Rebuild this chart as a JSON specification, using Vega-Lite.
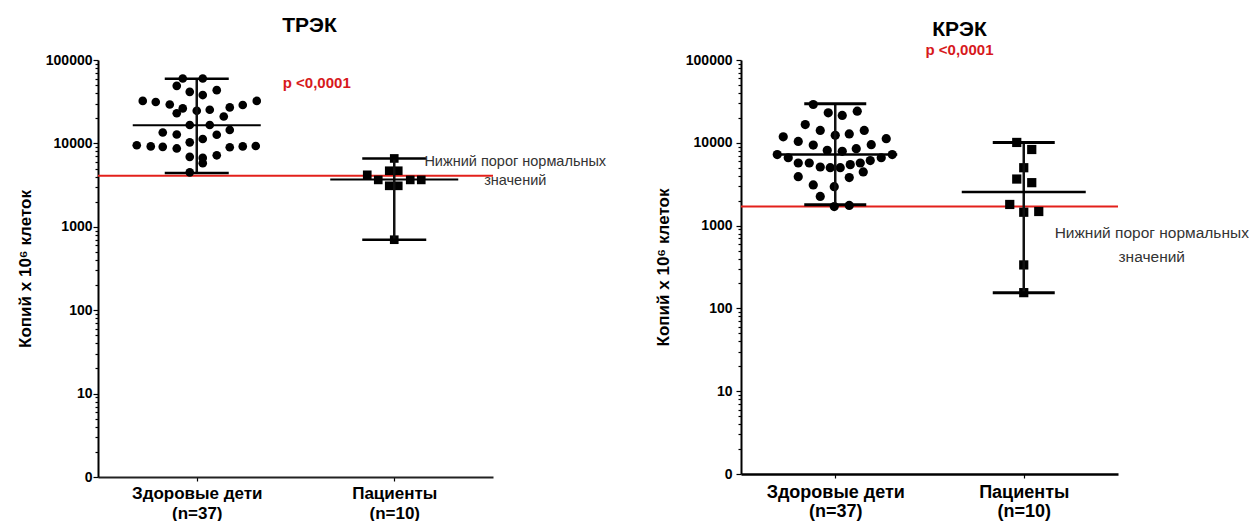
{
  "$schema": "https://vega.github.io/schema/vega-lite/v6.json",
  "padding": {"left": 16, "top": 15, "right": 5, "bottom": 0},
  "background": "white",
  "bounds": "flush",
  "spacing": 248,
  "config": {"view": {"stroke": null}, "font": "Liberation Sans"},
  "datasets": {
    "pts": [
      {"panel": "ТРЭК", "group": "Здоровые дети", "value": 60000, "jitter": -1.4},
      {"panel": "ТРЭК", "group": "Здоровые дети", "value": 60000, "jitter": 0.6},
      {"panel": "ТРЭК", "group": "Здоровые дети", "value": 49000, "jitter": -2.0},
      {"panel": "ТРЭК", "group": "Здоровые дети", "value": 41500, "jitter": -0.7},
      {"panel": "ТРЭК", "group": "Здоровые дети", "value": 38000, "jitter": 0.6},
      {"panel": "ТРЭК", "group": "Здоровые дети", "value": 43500, "jitter": 2.0},
      {"panel": "ТРЭК", "group": "Здоровые дети", "value": 32300, "jitter": -5.4},
      {"panel": "ТРЭК", "group": "Здоровые дети", "value": 31400, "jitter": -4.1},
      {"panel": "ТРЭК", "group": "Здоровые дети", "value": 29300, "jitter": -2.7},
      {"panel": "ТРЭК", "group": "Здоровые дети", "value": 26300, "jitter": -1.4},
      {"panel": "ТРЭК", "group": "Здоровые дети", "value": 23000, "jitter": -2.0},
      {"panel": "ТРЭК", "group": "Здоровые дети", "value": 24600, "jitter": 0},
      {"panel": "ТРЭК", "group": "Здоровые дети", "value": 25300, "jitter": 1.3},
      {"panel": "ТРЭК", "group": "Здоровые дети", "value": 27000, "jitter": 3.3},
      {"panel": "ТРЭК", "group": "Здоровые дети", "value": 28900, "jitter": 4.6},
      {"panel": "ТРЭК", "group": "Здоровые дети", "value": 32300, "jitter": 6.0},
      {"panel": "ТРЭК", "group": "Здоровые дети", "value": 21000, "jitter": 2.7},
      {"panel": "ТРЭК", "group": "Здоровые дети", "value": 16600, "jitter": -0.7},
      {"panel": "ТРЭК", "group": "Здоровые дети", "value": 16600, "jitter": 1.3},
      {"panel": "ТРЭК", "group": "Здоровые дети", "value": 13500, "jitter": -3.4},
      {"panel": "ТРЭК", "group": "Здоровые дети", "value": 12800, "jitter": -2.0},
      {"panel": "ТРЭК", "group": "Здоровые дети", "value": 12700, "jitter": 2.0},
      {"panel": "ТРЭК", "group": "Здоровые дети", "value": 14500, "jitter": 3.3},
      {"panel": "ТРЭК", "group": "Здоровые дети", "value": 11300, "jitter": 0.6},
      {"panel": "ТРЭК", "group": "Здоровые дети", "value": 10300, "jitter": -0.7},
      {"panel": "ТРЭК", "group": "Здоровые дети", "value": 9500, "jitter": -6.0},
      {"panel": "ТРЭК", "group": "Здоровые дети", "value": 9200, "jitter": -4.6},
      {"panel": "ТРЭК", "group": "Здоровые дети", "value": 9100, "jitter": -3.4},
      {"panel": "ТРЭК", "group": "Здоровые дети", "value": 8700, "jitter": -2.0},
      {"panel": "ТРЭК", "group": "Здоровые дети", "value": 9000, "jitter": 3.3},
      {"panel": "ТРЭК", "group": "Здоровые дети", "value": 9200, "jitter": 4.6},
      {"panel": "ТРЭК", "group": "Здоровые дети", "value": 9300, "jitter": 5.9},
      {"panel": "ТРЭК", "group": "Здоровые дети", "value": 6900, "jitter": -0.7},
      {"panel": "ТРЭК", "group": "Здоровые дети", "value": 6700, "jitter": 0.6},
      {"panel": "ТРЭК", "group": "Здоровые дети", "value": 5800, "jitter": 0.6},
      {"panel": "ТРЭК", "group": "Здоровые дети", "value": 7200, "jitter": 2.0},
      {"panel": "ТРЭК", "group": "Здоровые дети", "value": 4500, "jitter": -0.7},
      {"panel": "ТРЭК", "group": "Пациенты", "value": 6600, "jitter": 0},
      {"panel": "ТРЭК", "group": "Пациенты", "value": 4700, "jitter": -0.5},
      {"panel": "ТРЭК", "group": "Пациенты", "value": 4700, "jitter": 0.4},
      {"panel": "ТРЭК", "group": "Пациенты", "value": 4200, "jitter": -2.7},
      {"panel": "ТРЭК", "group": "Пациенты", "value": 3650, "jitter": -1.6},
      {"panel": "ТРЭК", "group": "Пациенты", "value": 3650, "jitter": 1.6},
      {"panel": "ТРЭК", "group": "Пациенты", "value": 3650, "jitter": 2.7},
      {"panel": "ТРЭК", "group": "Пациенты", "value": 3100, "jitter": -0.5},
      {"panel": "ТРЭК", "group": "Пациенты", "value": 3100, "jitter": 0.4},
      {"panel": "ТРЭК", "group": "Пациенты", "value": 700, "jitter": 0},
      {"panel": "КРЭК", "group": "Здоровые дети", "value": 29000, "jitter": -2.2},
      {"panel": "КРЭК", "group": "Здоровые дети", "value": 23000, "jitter": -0.7},
      {"panel": "КРЭК", "group": "Здоровые дети", "value": 21400, "jitter": 0.7},
      {"panel": "КРЭК", "group": "Здоровые дети", "value": 24100, "jitter": 2.2},
      {"panel": "КРЭК", "group": "Здоровые дети", "value": 16600, "jitter": -3.0},
      {"panel": "КРЭК", "group": "Здоровые дети", "value": 11800, "jitter": -5.2},
      {"panel": "КРЭК", "group": "Здоровые дети", "value": 10400, "jitter": -3.7},
      {"panel": "КРЭК", "group": "Здоровые дети", "value": 14100, "jitter": -1.5},
      {"panel": "КРЭК", "group": "Здоровые дети", "value": 12300, "jitter": 0},
      {"panel": "КРЭК", "group": "Здоровые дети", "value": 12800, "jitter": 1.4},
      {"panel": "КРЭК", "group": "Здоровые дети", "value": 14100, "jitter": 2.9},
      {"panel": "КРЭК", "group": "Здоровые дети", "value": 9400, "jitter": -2.2},
      {"panel": "КРЭК", "group": "Здоровые дети", "value": 9500, "jitter": 3.6},
      {"panel": "КРЭК", "group": "Здоровые дети", "value": 11200, "jitter": 5.1},
      {"panel": "КРЭК", "group": "Здоровые дети", "value": 8100, "jitter": -0.8},
      {"panel": "КРЭК", "group": "Здоровые дети", "value": 7900, "jitter": 0.7},
      {"panel": "КРЭК", "group": "Здоровые дети", "value": 8500, "jitter": 2.1},
      {"panel": "КРЭК", "group": "Здоровые дети", "value": 7200, "jitter": -5.8},
      {"panel": "КРЭК", "group": "Здоровые дети", "value": 6600, "jitter": -4.7},
      {"panel": "КРЭК", "group": "Здоровые дети", "value": 7200, "jitter": 5.7},
      {"panel": "КРЭК", "group": "Здоровые дети", "value": 6600, "jitter": 4.6},
      {"panel": "КРЭК", "group": "Здоровые дети", "value": 5700, "jitter": -3.7},
      {"panel": "КРЭК", "group": "Здоровые дети", "value": 5700, "jitter": -2.6},
      {"panel": "КРЭК", "group": "Здоровые дети", "value": 5100, "jitter": -1.5},
      {"panel": "КРЭК", "group": "Здоровые дети", "value": 5000, "jitter": -0.5},
      {"panel": "КРЭК", "group": "Здоровые дети", "value": 5000, "jitter": 0.5},
      {"panel": "КРЭК", "group": "Здоровые дети", "value": 5450, "jitter": 1.5},
      {"panel": "КРЭК", "group": "Здоровые дети", "value": 5700, "jitter": 2.5},
      {"panel": "КРЭК", "group": "Здоровые дети", "value": 6100, "jitter": 3.5},
      {"panel": "КРЭК", "group": "Здоровые дети", "value": 3900, "jitter": -3.7},
      {"panel": "КРЭК", "group": "Здоровые дети", "value": 3800, "jitter": 1.4},
      {"panel": "КРЭК", "group": "Здоровые дети", "value": 4450, "jitter": 2.8},
      {"panel": "КРЭК", "group": "Здоровые дети", "value": 3100, "jitter": -2.2},
      {"panel": "КРЭК", "group": "Здоровые дети", "value": 2950, "jitter": -0.1},
      {"panel": "КРЭК", "group": "Здоровые дети", "value": 2250, "jitter": -1.5},
      {"panel": "КРЭК", "group": "Здоровые дети", "value": 1700, "jitter": -0.1},
      {"panel": "КРЭК", "group": "Здоровые дети", "value": 1750, "jitter": 1.4},
      {"panel": "КРЭК", "group": "Пациенты", "value": 10100, "jitter": -0.7},
      {"panel": "КРЭК", "group": "Пациенты", "value": 8300, "jitter": 0.8},
      {"panel": "КРЭК", "group": "Пациенты", "value": 5000, "jitter": 0},
      {"panel": "КРЭК", "group": "Пациенты", "value": 3650, "jitter": -0.7},
      {"panel": "КРЭК", "group": "Пациенты", "value": 3300, "jitter": 0.8},
      {"panel": "КРЭК", "group": "Пациенты", "value": 1800, "jitter": -1.4},
      {"panel": "КРЭК", "group": "Пациенты", "value": 1450, "jitter": 0},
      {"panel": "КРЭК", "group": "Пациенты", "value": 1480, "jitter": 1.5},
      {"panel": "КРЭК", "group": "Пациенты", "value": 335, "jitter": 0},
      {"panel": "КРЭК", "group": "Пациенты", "value": 155, "jitter": 0}
    ],
    "summary": [
      {"panel": "ТРЭК", "group": "Здоровые дети", "low": 4430, "mid": 16500, "high": 59500},
      {"panel": "ТРЭК", "group": "Пациенты", "low": 700, "mid": 3700, "high": 6600},
      {"panel": "КРЭК", "group": "Здоровые дети", "low": 1780, "mid": 7200, "high": 29600},
      {"panel": "КРЭК", "group": "Пациенты", "low": 155, "mid": 2540, "high": 10100}
    ],
    "notes": [
      {"panel": "ТРЭК", "kind": "threshold", "group": "Пациенты", "value": 4100, "text": "Нижний порог нормальных\nзначений"},
      {"panel": "КРЭК", "kind": "threshold", "group": "Пациенты", "value": 1700, "text": "Нижний порог нормальных\nзначений"},
      {"panel": "ТРЭК", "kind": "p", "group": "Здоровые дети", "value": 52500, "text": "p <0,0001"}
    ]
  },
  "hconcat": [
    {
      "width": 395,
      "height": 417,
      "title": {"text": "ТРЭК", "font": "Liberation Sans", "fontSize": 21, "fontWeight": "bold", "color": "#000", "anchor": "middle", "dx": 14, "offset": 17},
      "layer": [
        {
          "data": {"name": "notes"},
          "transform": [{"filter": "datum.panel == 'ТРЭК' && datum.kind == 'threshold'"}],
          "mark": {"type": "rule", "color": "#e3201b", "strokeWidth": 2},
          "encoding": {
            "y": {"field": "value", "type": "quantitative", "scale": {"type": "log", "domain": [1, 100000], "nice": false},
              "axis": {"title": "Копий х 10⁶ клеток", "titleFont": "Liberation Sans", "titleFontSize": 17, "titleFontWeight": "bold", "titleColor": "#000", "titlePadding": 11,
                "values": [1,2,3,4,5,6,7,8,9,10,20,30,40,50,60,70,80,90,100,200,300,400,500,600,700,800,900,1000,2000,3000,4000,5000,6000,7000,8000,9000,10000,20000,30000,40000,50000,60000,70000,80000,90000,100000],
                "labelExpr": "datum.value == 1 ? '0' : (indexof([10,100,1000,10000,100000], datum.value) >= 0 ? format(datum.value, 'd') : '')",
                "labelFont": "Liberation Sans", "labelFontSize": 14, "labelFontWeight": "bold", "labelColor": "#000", "labelPadding": 1, "labelOverlap": false, "labelFlush": false,
                "tickSize": {"condition": {"test": "indexof([1,10,100,1000,10000,100000], datum.value) >= 0", "value": 5}, "value": 3},
                "tickColor": "#000", "tickWidth": 1.2, "domainColor": "#000", "domainWidth": 2, "grid": false}}
          }
        },
        {
          "data": {"name": "pts"},
          "transform": [{"filter": "datum.panel == 'ТРЭК'"}],
          "mark": {"type": "point", "filled": true, "opacity": 1, "color": "#000", "size": 75},
          "encoding": {
            "x": {"field": "group", "type": "nominal", "scale": {"type": "point", "padding": 0.5, "domain": ["Здоровые дети", "Пациенты"]},
              "axis": {"title": null, "labelAngle": 0, "labelExpr": "datum.value == 'Пациенты' ? ['Пациенты', '(n=10)'] : ['Здоровые дети', '(n=37)']",
                "labelFont": "Liberation Sans", "labelFontSize": 17, "labelFontWeight": "bold", "labelColor": "#000", "labelPadding": 4, "labelLineHeight": 20,
                "tickSize": 4, "tickColor": "#000", "tickWidth": 1.2, "domainColor": "#222", "domainWidth": 2, "grid": false}},
            "xOffset": {"field": "jitter", "type": "quantitative", "scale": {"domain": [-10, 10], "range": [-100, 100]}},
            "y": {"field": "value", "type": "quantitative", "scale": {"type": "log", "domain": [1, 100000], "nice": false}},
            "shape": {"field": "group", "type": "nominal", "scale": {"domain": ["Здоровые дети", "Пациенты"], "range": ["circle", "square"]}, "legend": null}
          }
        },
        {
          "data": {"name": "summary"},
          "transform": [{"filter": "datum.panel == 'ТРЭК'"}],
          "mark": {"type": "rule", "color": "#111", "strokeWidth": 2.5},
          "encoding": {
            "x": {"field": "group", "type": "nominal", "scale": {"type": "point", "padding": 0.5, "domain": ["Здоровые дети", "Пациенты"]}},
            "y": {"field": "low", "type": "quantitative", "scale": {"type": "log", "domain": [1, 100000], "nice": false}},
            "y2": {"field": "high"}
          }
        },
        {
          "data": {"name": "summary"},
          "transform": [{"filter": "datum.panel == 'ТРЭК'"}],
          "mark": {"type": "tick", "color": "#000", "size": 64, "thickness": 2.5, "opacity": 1},
          "encoding": {
            "x": {"field": "group", "type": "nominal", "scale": {"type": "point", "padding": 0.5, "domain": ["Здоровые дети", "Пациенты"]}},
            "y": {"field": "low", "type": "quantitative", "scale": {"type": "log", "domain": [1, 100000], "nice": false}}
          }
        },
        {
          "data": {"name": "summary"},
          "transform": [{"filter": "datum.panel == 'ТРЭК'"}],
          "mark": {"type": "tick", "color": "#000", "size": 64, "thickness": 2.5, "opacity": 1},
          "encoding": {
            "x": {"field": "group", "type": "nominal", "scale": {"type": "point", "padding": 0.5, "domain": ["Здоровые дети", "Пациенты"]}},
            "y": {"field": "high", "type": "quantitative", "scale": {"type": "log", "domain": [1, 100000], "nice": false}}
          }
        },
        {
          "data": {"name": "summary"},
          "transform": [{"filter": "datum.panel == 'ТРЭК'"}],
          "mark": {"type": "tick", "color": "#000", "size": 128, "thickness": 2, "opacity": 1},
          "encoding": {
            "x": {"field": "group", "type": "nominal", "scale": {"type": "point", "padding": 0.5, "domain": ["Здоровые дети", "Пациенты"]}},
            "y": {"field": "mid", "type": "quantitative", "scale": {"type": "log", "domain": [1, 100000], "nice": false}}
          }
        },
        {
          "data": {"name": "notes"},
          "transform": [{"filter": "datum.panel == 'ТРЭК' && datum.kind == 'p'"}],
          "mark": {"type": "text", "color": "#d7191c", "font": "Liberation Sans", "fontSize": 15, "fontWeight": "bold", "align": "center", "baseline": "middle", "dx": 120},
          "encoding": {
            "x": {"field": "group", "type": "nominal", "scale": {"type": "point", "padding": 0.5, "domain": ["Здоровые дети", "Пациенты"]}},
            "y": {"field": "value", "type": "quantitative", "scale": {"type": "log", "domain": [1, 100000], "nice": false}},
            "text": {"field": "text"}
          }
        },
        {
          "data": {"name": "notes"},
          "transform": [{"filter": "datum.panel == 'ТРЭК' && datum.kind == 'threshold'"}],
          "mark": {"type": "text", "color": "#333", "font": "Liberation Sans", "fontSize": 14.5, "align": "center", "baseline": "middle", "lineBreak": "\n", "lineHeight": 19, "dx": 121, "dy": -14},
          "encoding": {
            "x": {"field": "group", "type": "nominal", "scale": {"type": "point", "padding": 0.5, "domain": ["Здоровые дети", "Пациенты"]}},
            "y": {"field": "value", "type": "quantitative", "scale": {"type": "log", "domain": [1, 100000], "nice": false}},
            "text": {"field": "text"}
          }
        }
      ]
    },
    {
      "width": 377,
      "height": 414,
      "title": {"text": "КРЭК", "subtitle": "p <0,0001", "font": "Liberation Sans", "fontSize": 21, "fontWeight": "bold", "color": "#000", "anchor": "middle", "dx": 30, "offset": -5,
        "subtitleFont": "Liberation Sans", "subtitleFontSize": 15, "subtitleFontWeight": "bold", "subtitleColor": "#d7191c", "subtitlePadding": 3},
      "layer": [
        {
          "data": {"name": "notes"},
          "transform": [{"filter": "datum.panel == 'КРЭК' && datum.kind == 'threshold'"}],
          "mark": {"type": "rule", "color": "#e3201b", "strokeWidth": 2},
          "encoding": {
            "y": {"field": "value", "type": "quantitative", "scale": {"type": "log", "domain": [1, 100000], "nice": false},
              "axis": {"title": "Копий х 10⁶ клеток", "titleFont": "Liberation Sans", "titleFontSize": 17, "titleFontWeight": "bold", "titleColor": "#000", "titlePadding": 13,
                "values": [1,2,3,4,5,6,7,8,9,10,20,30,40,50,60,70,80,90,100,200,300,400,500,600,700,800,900,1000,2000,3000,4000,5000,6000,7000,8000,9000,10000,20000,30000,40000,50000,60000,70000,80000,90000,100000],
                "labelExpr": "datum.value == 1 ? '0' : (indexof([10,100,1000,10000,100000], datum.value) >= 0 ? format(datum.value, 'd') : '')",
                "labelFont": "Liberation Sans", "labelFontSize": 14, "labelFontWeight": "bold", "labelColor": "#000", "labelPadding": 4, "labelOverlap": false, "labelFlush": false,
                "tickSize": {"condition": {"test": "indexof([1,10,100,1000,10000,100000], datum.value) >= 0", "value": 5}, "value": 3},
                "tickColor": "#000", "tickWidth": 1.2, "domainColor": "#000", "domainWidth": 2, "grid": false}}
          }
        },
        {
          "data": {"name": "pts"},
          "transform": [{"filter": "datum.panel == 'КРЭК'"}],
          "mark": {"type": "point", "filled": true, "opacity": 1, "color": "#000", "size": 85},
          "encoding": {
            "x": {"field": "group", "type": "nominal", "scale": {"type": "point", "padding": 0.5, "domain": ["Здоровые дети", "Пациенты"]},
              "axis": {"title": null, "labelAngle": 0, "labelExpr": "datum.value == 'Пациенты' ? ['Пациенты', '(n=10)'] : ['Здоровые дети', '(n=37)']",
                "labelFont": "Liberation Sans", "labelFontSize": 18, "labelFontWeight": "bold", "labelColor": "#000", "labelPadding": 5, "labelLineHeight": 19,
                "tickSize": 4, "tickColor": "#000", "tickWidth": 1.2, "domainColor": "#000", "domainWidth": 2.5, "grid": false}},
            "xOffset": {"field": "jitter", "type": "quantitative", "scale": {"domain": [-10, 10], "range": [-100, 100]}},
            "y": {"field": "value", "type": "quantitative", "scale": {"type": "log", "domain": [1, 100000], "nice": false}},
            "shape": {"field": "group", "type": "nominal", "scale": {"domain": ["Здоровые дети", "Пациенты"], "range": ["circle", "square"]}, "legend": null}
          }
        },
        {
          "data": {"name": "summary"},
          "transform": [{"filter": "datum.panel == 'КРЭК'"}],
          "mark": {"type": "rule", "color": "#111", "strokeWidth": 2.5},
          "encoding": {
            "x": {"field": "group", "type": "nominal", "scale": {"type": "point", "padding": 0.5, "domain": ["Здоровые дети", "Пациенты"]}},
            "y": {"field": "low", "type": "quantitative", "scale": {"type": "log", "domain": [1, 100000], "nice": false}},
            "y2": {"field": "high"}
          }
        },
        {
          "data": {"name": "summary"},
          "transform": [{"filter": "datum.panel == 'КРЭК'"}],
          "mark": {"type": "tick", "color": "#000", "size": 62, "thickness": 3, "opacity": 1},
          "encoding": {
            "x": {"field": "group", "type": "nominal", "scale": {"type": "point", "padding": 0.5, "domain": ["Здоровые дети", "Пациенты"]}},
            "y": {"field": "low", "type": "quantitative", "scale": {"type": "log", "domain": [1, 100000], "nice": false}}
          }
        },
        {
          "data": {"name": "summary"},
          "transform": [{"filter": "datum.panel == 'КРЭК'"}],
          "mark": {"type": "tick", "color": "#000", "size": 62, "thickness": 3, "opacity": 1},
          "encoding": {
            "x": {"field": "group", "type": "nominal", "scale": {"type": "point", "padding": 0.5, "domain": ["Здоровые дети", "Пациенты"]}},
            "y": {"field": "high", "type": "quantitative", "scale": {"type": "log", "domain": [1, 100000], "nice": false}}
          }
        },
        {
          "data": {"name": "summary"},
          "transform": [{"filter": "datum.panel == 'КРЭК'"}],
          "mark": {"type": "tick", "color": "#000", "size": 124, "thickness": 2.5, "opacity": 1},
          "encoding": {
            "x": {"field": "group", "type": "nominal", "scale": {"type": "point", "padding": 0.5, "domain": ["Здоровые дети", "Пациенты"]}},
            "y": {"field": "mid", "type": "quantitative", "scale": {"type": "log", "domain": [1, 100000], "nice": false}}
          }
        },
        {
          "data": {"name": "notes"},
          "transform": [{"filter": "datum.panel == 'КРЭК' && datum.kind == 'threshold'"}],
          "mark": {"type": "text", "color": "#333", "font": "Liberation Sans", "fontSize": 15.5, "align": "center", "baseline": "middle", "lineBreak": "\n", "lineHeight": 24, "dx": 128, "dy": 26},
          "encoding": {
            "x": {"field": "group", "type": "nominal", "scale": {"type": "point", "padding": 0.5, "domain": ["Здоровые дети", "Пациенты"]}},
            "y": {"field": "value", "type": "quantitative", "scale": {"type": "log", "domain": [1, 100000], "nice": false}},
            "text": {"field": "text"}
          }
        }
      ]
    }
  ]
}
